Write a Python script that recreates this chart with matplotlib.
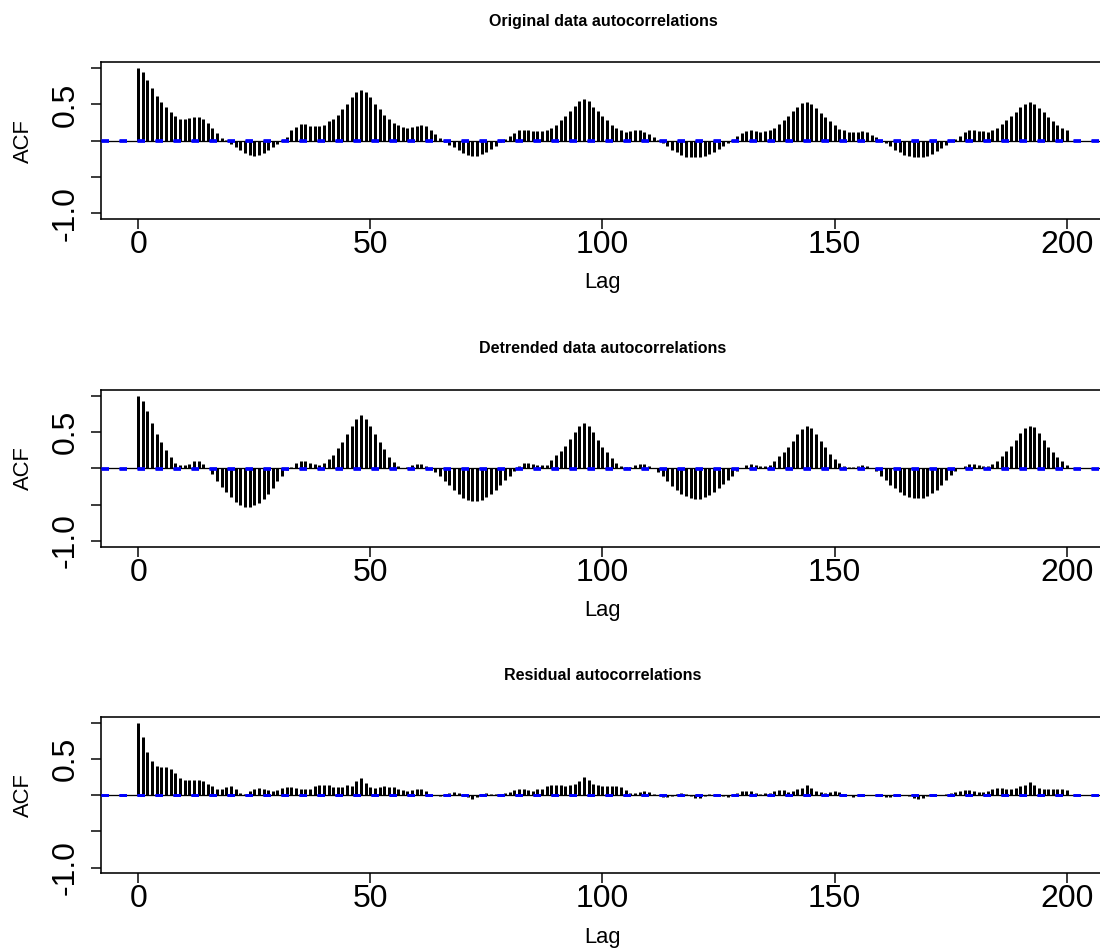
import matplotlib
matplotlib.use("Agg")
import matplotlib.pyplot as plt

# ---------------- data ----------------
lags = list(range(201))

acf_original = [
    1.00, 0.95, 0.84, 0.73, 0.62, 0.53, 0.46, 0.39, 0.34, 0.30, 0.30,          # 0-10
    0.31, 0.32, 0.32, 0.30, 0.24, 0.17, 0.11, 0.04, 0.005, -0.04,              # 11-20
    -0.09, -0.125, -0.17, -0.20, -0.21, -0.20, -0.17, -0.13, -0.09, -0.04,     # 21-30
    0.015, 0.05, 0.14, 0.19, 0.225, 0.225, 0.20, 0.20, 0.20, 0.21,             # 31-40
    0.27, 0.30, 0.36, 0.43, 0.51, 0.60, 0.67, 0.705, 0.675, 0.60,              # 41-50
    0.51, 0.43, 0.36, 0.30, 0.245, 0.21, 0.185, 0.18, 0.19, 0.20,              # 51-60
    0.21, 0.20, 0.15, 0.09, 0.04, -0.015, -0.055, -0.09, -0.13, -0.17,         # 61-70
    -0.20, -0.215, -0.21, -0.19, -0.15, -0.115, -0.075, -0.025, 0.025, 0.07,   # 71-80
    0.105, 0.15, 0.15, 0.14, 0.135, 0.13, 0.135, 0.15, 0.18, 0.22,             # 81-90
    0.28, 0.34, 0.41, 0.48, 0.54, 0.57, 0.54, 0.47, 0.41, 0.34,                # 91-100
    0.28, 0.22, 0.175, 0.14, 0.125, 0.13, 0.14, 0.14, 0.125, 0.09,             # 101-110
    0.05, 0.015, -0.03, -0.08, -0.125, -0.16, -0.20, -0.22, -0.225, -0.23,     # 111-120
    -0.225, -0.21, -0.18, -0.15, -0.11, -0.07, -0.03, 0.015, 0.06, 0.105,      # 121-130
    0.13, 0.14, 0.135, 0.125, 0.13, 0.14, 0.175, 0.235, 0.285, 0.345,          # 131-140
    0.405, 0.465, 0.52, 0.535, 0.51, 0.45, 0.38, 0.32, 0.27, 0.22,             # 141-150
    0.165, 0.14, 0.12, 0.12, 0.125, 0.13, 0.115, 0.08, 0.045, 0.015,           # 151-160
    -0.03, -0.08, -0.125, -0.16, -0.195, -0.215, -0.225, -0.23, -0.225, -0.21, # 161-170
    -0.18, -0.14, -0.10, -0.055, -0.01, 0.025, 0.07, 0.115, 0.14, 0.145,      # 171-180
    0.135, 0.13, 0.125, 0.14, 0.175, 0.225, 0.28, 0.335, 0.395, 0.46,          # 181-190
    0.51, 0.535, 0.51, 0.45, 0.39, 0.33, 0.27, 0.21, 0.175, 0.14,              # 191-200
]

acf_detrended = [
    1.00, 0.93, 0.79, 0.63, 0.47, 0.36, 0.25, 0.15, 0.08, 0.05, 0.04,          # 0-10
    0.06, 0.10, 0.10, 0.06, 0.0, -0.08, -0.17, -0.26, -0.33, -0.40,            # 11-20
    -0.47, -0.51, -0.53, -0.53, -0.51, -0.48, -0.42, -0.35, -0.27, -0.18,      # 21-30
    -0.10, -0.02, 0.02, 0.08, 0.105, 0.105, 0.08, 0.06, 0.045, 0.075,          # 31-40
    0.13, 0.19, 0.28, 0.37, 0.48, 0.59, 0.68, 0.73, 0.68, 0.58,                # 41-50
    0.47, 0.37, 0.26, 0.16, 0.09, 0.03, 0.005, 0.02, 0.04, 0.065,              # 51-60
    0.065, 0.035, 0.005, -0.045, -0.11, -0.17, -0.235, -0.295, -0.355, -0.41,  # 61-70
    -0.44, -0.455, -0.455, -0.43, -0.395, -0.355, -0.295, -0.225, -0.165, -0.10, # 71-80
    -0.04, 0.03, 0.08, 0.075, 0.06, 0.04, 0.04, 0.05, 0.11, 0.18,              # 81-90
    0.235, 0.31, 0.40, 0.50, 0.58, 0.625, 0.59, 0.50, 0.395, 0.30,             # 91-100
    0.22, 0.14, 0.08, 0.035, 0.02, 0.02, 0.04, 0.06, 0.065, 0.035,             # 101-110
    0.0, -0.055, -0.11, -0.18, -0.24, -0.295, -0.35, -0.385, -0.41, -0.425,    # 111-120
    -0.42, -0.395, -0.365, -0.33, -0.27, -0.215, -0.155, -0.11, -0.04, 0.005,  # 121-130
    0.045, 0.06, 0.05, 0.03, 0.03, 0.05, 0.095, 0.165, 0.22, 0.30,             # 131-140
    0.38, 0.47, 0.545, 0.58, 0.555, 0.47, 0.38, 0.29, 0.20, 0.13,              # 141-150
    0.075, 0.035, 0.02, 0.02, 0.03, 0.045, 0.03, 0.005, -0.04, -0.10,          # 151-160
    -0.165, -0.225, -0.275, -0.33, -0.365, -0.395, -0.41, -0.41, -0.405, -0.385, # 161-170
    -0.34, -0.295, -0.225, -0.155, -0.095, -0.04, 0.005, 0.035, 0.055, 0.065,  # 171-180
    0.045, 0.035, 0.03, 0.055, 0.095, 0.165, 0.235, 0.31, 0.395, 0.49,         # 181-190
    0.555, 0.59, 0.57, 0.49, 0.395, 0.30, 0.22, 0.155, 0.095, 0.05,            # 191-200
]

acf_residual = [
    1.00, 0.80, 0.595, 0.47, 0.40, 0.385, 0.38, 0.355, 0.30, 0.24, 0.21,       # 0-10
    0.21, 0.21, 0.21, 0.195, 0.15, 0.125, 0.09, 0.09, 0.115, 0.125,            # 11-20
    0.09, 0.03, 0.02, 0.055, 0.08, 0.095, 0.09, 0.07, 0.06, 0.07,              # 21-30
    0.10, 0.115, 0.115, 0.10, 0.09, 0.08, 0.09, 0.125, 0.14, 0.145,            # 31-40
    0.135, 0.115, 0.11, 0.115, 0.14, 0.13, 0.19, 0.24, 0.17, 0.115,            # 41-50
    0.10, 0.11, 0.12, 0.115, 0.11, 0.09, 0.07, 0.06, 0.075, 0.08,              # 51-60
    0.08, 0.05, 0.02, 0.005, -0.015, -0.005, 0.03, 0.045, 0.025, -0.015,       # 61-70
    -0.02, -0.05, -0.025, 0.01, 0.025, 0.015, 0.01, 0.005, 0.025, 0.045,       # 71-80
    0.07, 0.09, 0.09, 0.07, 0.06, 0.08, 0.09, 0.12, 0.135, 0.14,               # 81-90
    0.135, 0.125, 0.14, 0.155, 0.20, 0.25, 0.21, 0.155, 0.135, 0.125,          # 91-100
    0.13, 0.13, 0.125, 0.105, 0.07, 0.035, 0.03, 0.045, 0.055, 0.04,           # 101-110
    0.015, 0.0, -0.025, -0.03, -0.015, 0.015, 0.03, 0.02, -0.015, -0.045,      # 111-120
    -0.035, -0.01, 0.015, 0.005, -0.005, -0.015, -0.02, -0.005, 0.025, 0.055,  # 121-130
    0.06, 0.055, 0.03, 0.02, 0.025, 0.035, 0.06, 0.07, 0.065, 0.045,           # 131-140
    0.055, 0.08, 0.10, 0.135, 0.095, 0.055, 0.04, 0.035, 0.045, 0.05,          # 141-150
    0.04, 0.02, 0.0, -0.02, -0.005, 0.01, 0.0, 0.005, 0.0, -0.01,              # 151-160
    -0.03, -0.03, -0.015, 0.0, 0.0, -0.015, -0.04, -0.06, -0.035, -0.01,       # 161-170
    0.0, -0.005, 0.0, 0.02, 0.03, 0.04, 0.06, 0.07, 0.065, 0.055,              # 171-180
    0.045, 0.04, 0.06, 0.09, 0.095, 0.095, 0.09, 0.09, 0.10, 0.125,            # 181-190
    0.145, 0.185, 0.145, 0.095, 0.09, 0.09, 0.09, 0.085, 0.08, 0.07,           # 191-200
]

conf_bound = 0.004   # +/- 1.96/sqrt(n): essentially on the zero line

titles = ["Original data autocorrelations",
          "Detrended data autocorrelations",
          "Residual autocorrelations"]
x_label = "Lag"
y_label = "ACF"
x_ticks = [0, 50, 100, 150, 200]
x_tick_labels = ["0", "50", "100", "150", "200"]
y_ticks = [-1.0, -0.5, 0.0, 0.5, 1.0]
y_tick_labels = ["-1.0", "", "", "0.5", ""]

# ---------------- drawing ----------------
plt.rcParams['font.family'] = ['Liberation Sans', 'DejaVu Sans']

W, H = 1100, 951
fig = plt.figure(figsize=(W / 100, H / 100), dpi=100)


def pt(px):
    """pixels -> points at 100 dpi"""
    return px * 0.72


left_px, right_px = 101.0, 1103.9
tops_px = [62.3, 390.0, 716.7]
h_px = 156.7

for vals, title, top in zip([acf_original, acf_detrended, acf_residual], titles, tops_px):
    ax = fig.add_axes([left_px / W, 1 - (top + h_px) / H,
                       (right_px - left_px) / W, h_px / H])
    ax.set_xlim(-8, 208)
    ax.set_ylim(-1.08, 1.08)

    ax.vlines(lags, 0, vals, colors='black', linewidth=pt(3.0),
              capstyle='butt', zorder=2)
    ax.axhline(0, color='black', lw=pt(1.3), zorder=3)
    for b in (conf_bound, -conf_bound):
        ax.axhline(b, color='#0000ff', lw=pt(2.7),
                   linestyle=(0, (7.5 / 2.7, 10.5 / 2.7)), zorder=4)

    ax.set_xticks(x_ticks)
    ax.set_xticklabels(x_tick_labels)
    ax.set_yticks(y_ticks)
    ax.set_yticklabels(y_tick_labels, rotation=90, va='center')
    ax.tick_params(axis='both', length=pt(10), width=pt(1.5),
                   labelsize=pt(32), color='black')
    ax.tick_params(axis='x', pad=pt(1))
    ax.tick_params(axis='y', pad=pt(10))
    for sp in ax.spines.values():
        sp.set_linewidth(pt(1.6))

    bottom = top + h_px
    fig.text(603 / W, 1 - (top - 41) / H, title, ha='center', va='center',
             fontsize=pt(16), fontweight='bold')
    fig.text(603 / W, 1 - (bottom + 64) / H, x_label, ha='center', va='center',
             fontsize=pt(22))
    fig.text(23 / W, 1 - (top + h_px / 2) / H, y_label, ha='center', va='center',
             rotation=90, fontsize=pt(22))

fig.savefig("out.png", dpi=100)
